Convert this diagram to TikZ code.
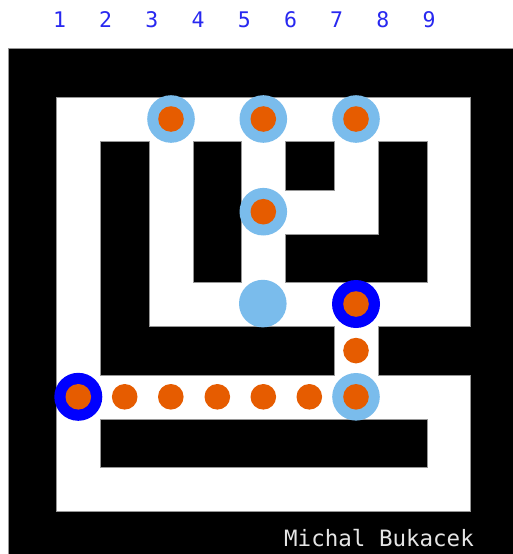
\documentclass[tikz,border=0pt]{standalone}
\usepackage{fontspec}
\newfontfamily\mazemono{DejaVu Sans Mono}
\definecolor{lblue}{RGB}{122,188,236}
\definecolor{dorange}{RGB}{230,92,0}
\definecolor{numblue}{RGB}{40,40,240}
\definecolor{edgegray}{RGB}{150,150,150}
\begin{document}
\begin{tikzpicture}[x=1pt,y=-1pt,
  wall/.style={fill=black,draw=edgegray,line width=0.7pt},
  visited/.style={circle,fill=lblue,minimum size=47.6pt,inner sep=0pt},
  endpt/.style={circle,fill=blue,minimum size=48pt,inner sep=0pt},
  pathdot/.style={circle,fill=dorange,minimum size=25.6pt,inner sep=0pt},
  colnum/.style={font=\mazemono\fontsize{21.5}{22}\selectfont,text=numblue,inner sep=0pt},
  sign/.style={font=\mazemono\fontsize{22.5}{23}\selectfont,text=black!10,inner sep=0pt,anchor=base west}]
\useasboundingbox (0,0) rectangle (513,554);
\fill[white] (0,0) rectangle (513,554);
% outer frame
\filldraw[wall] (8,48.7) rectangle (514,555);
\filldraw[fill=white,draw=edgegray,line width=0.7pt] (56.7,97.7) rectangle (470.7,511.7);
% inner walls
\filldraw[wall] (100.7,141.7) -- (149,141.7) -- (149,326.7) -- (334.4,326.7) -- (334.4,375) -- (100.7,375) -- cycle;
\filldraw[wall] (193.3,141.7) rectangle (241.8,282.8);
\filldraw[wall] (285.7,141.7) rectangle (334.4,190.2);
\filldraw[wall] (378.3,141.7) -- (427,141.7) -- (427,282.8) -- (285.7,282.8) -- (285.7,234) -- (378.3,234) -- cycle;
\fill[black] (378.3,326.7) rectangle (471.5,375);
\draw[edgegray,line width=0.7pt] (470.7,326.7) -- (378.3,326.7) -- (378.3,375) -- (470.7,375);
\filldraw[wall] (100.7,419.3) rectangle (427,467.7);
% column numbers
\foreach \i in {1,...,9} {
  \node[colnum] (n\i) at ({59.5+46.2*(\i-1)},19.5) {\i};
}
% visited cells
\node[visited] (v1) at (171,119) {};
\node[visited] (v2) at (263.3,119) {};
\node[visited] (v3) at (356,119) {};
\node[visited] (v4) at (263.3,211.7) {};
\node[visited] (v5) at (262.8,303.6) {};
\node[visited] (v6) at (356,396.8) {};
% start and goal
\node[endpt] (s) at (78.3,396.8) {};
\node[endpt] (g) at (356,304) {};
% path dots
\node[pathdot] (p1) at (171,119) {};
\node[pathdot] (p2) at (263.3,119) {};
\node[pathdot] (p3) at (356,119) {};
\node[pathdot] (p4) at (263.3,211.7) {};
\node[pathdot] (p5) at (356,304) {};
\node[pathdot] (p6) at (356,350.6) {};
\node[pathdot] (p7) at (356,396.8) {};
\node[pathdot] (p8) at (309.3,396.8) {};
\node[pathdot] (p9) at (263.3,396.8) {};
\node[pathdot] (p10) at (217.3,396.8) {};
\node[pathdot] (p11) at (170.8,396.8) {};
\node[pathdot] (p12) at (124.7,396.8) {};
\node[pathdot] (p13) at (78.3,396.8) {};
% signature
\node[sign] (author) at (284,546.7) {Michal Bukacek};
\end{tikzpicture}
\end{document}
